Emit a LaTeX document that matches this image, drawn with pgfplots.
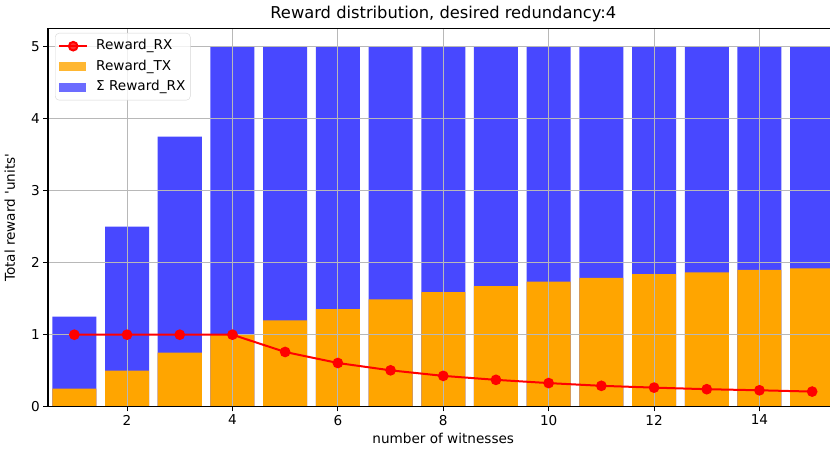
\documentclass[border=0pt]{standalone}
\usepackage{fontspec}
\setmainfont{DejaVu Sans}[Ligatures=TeXOff]
\usepackage{pgfplots}
\pgfplotsset{compat=1.18}
\definecolor{mplorange}{HTML}{FFA500}
\definecolor{mplblue}{HTML}{4848FF}
\definecolor{gridgray}{HTML}{B8B8B8}
\definecolor{legedge}{HTML}{D6D6D6}
\pgfplotsset{
  lineleg/.style={legend image code/.code={\draw[sharp corners,mark repeat=2,mark phase=2,##1] plot coordinates {(0pt,0pt) (14pt,0pt) (28pt,0pt)};}},
  boxleg/.style={legend image code/.code={\fill[sharp corners,##1] (0pt,-4.5pt) rectangle (27pt,4.5pt);}},
}
\begin{document}
\begin{tikzpicture}
\begin{axis}[
  at={(0,0)}, anchor=south west,
  scale only axis, width=790.5pt, height=378pt,
  xmin=0.5, xmax=15.5, ymin=0, ymax=5.25,
  xtick={2,4,...,14}, ytick={0,1,2,3,4,5},
  tick pos=left, tick align=outside, major tick length=4.8pt,
  tick style={black, line width=1.1pt},
  axis line style={black, line width=1.1pt},
  grid=major, grid style={gridgray, line width=1pt},
  set layers,
  ticklabel style={font=\fontsize{13.6}{16}\selectfont},
  /pgf/number format/assume math mode=true,
  every axis title shift=0pt,
  title={Reward distribution, desired redundancy:4},
  title style={at={(axis description cs:0.5,1.0257)}, anchor=base, font=\fontsize{16.3}{19}\selectfont},
  xlabel={number of witnesses},
  xlabel style={at={(axis description cs:0.5,-0.0979)}, anchor=base, font=\fontsize{13.6}{16}\selectfont},
  ylabel={Total reward 'units'},
  ylabel style={at={(axis description cs:-0.0418,0.5)}, anchor=base, font=\fontsize{13.6}{16}\selectfont},
  legend style={at={(0,1)}, anchor=north west, xshift=7pt, yshift=-4.3pt,
    draw=legedge, rounded corners=4pt, fill=white, fill opacity=0.8, text opacity=1,
    font=\fontsize{13.6}{16}\selectfont, inner xsep=3pt, inner ysep=4.5pt,
    row sep=3.5pt, nodes={inner sep=2pt, text height=10pt, text depth=3pt}},
  legend cell align=left,
  /tikz/every odd column/.append style={column sep=6pt},
]
\addlegendimage{red, line width=2pt, mark=*, mark size=4.3pt, lineleg}
\addlegendentry{Reward\_RX}
\addlegendimage{fill=mplorange, draw=none, boxleg}
\addlegendentry{Reward\_TX}
\addlegendimage{fill=mplblue, draw=none, boxleg}
\addlegendentry{Σ Reward\_RX}

\addplot[ybar, bar width=0.835, bar shift=0pt, fill=mplblue, draw=none, on layer=axis background, forget plot]
  coordinates {(1,1.25) (2,2.5) (3,3.75) (4,5) (5,5) (6,5) (7,5) (8,5) (9,5) (10,5) (11,5) (12,5) (13,5) (14,5) (15,5)};
\addplot[ybar, bar width=0.835, bar shift=0pt, fill=mplorange, draw=none, on layer=axis background, forget plot]
  coordinates {(1,0.25) (2,0.5) (3,0.75) (4,1.0) (5,1.2) (6,1.355) (7,1.49) (8,1.593) (9,1.676) (10,1.736) (11,1.79) (12,1.84) (13,1.866) (14,1.9) (15,1.92)};
\addplot[red, line width=2pt, mark=*, mark size=4.3pt, forget plot]
  coordinates {(1,1) (2,1) (3,1) (4,1) (5,0.76) (6,0.607) (7,0.505) (8,0.428) (9,0.373) (10,0.328) (11,0.29) (12,0.265) (13,0.243) (14,0.228) (15,0.21)};
\end{axis}
\pgfresetboundingbox
\useasboundingbox (-48pt,-45.3pt) rectangle (782pt,406.7pt);
\end{tikzpicture}
\end{document}
